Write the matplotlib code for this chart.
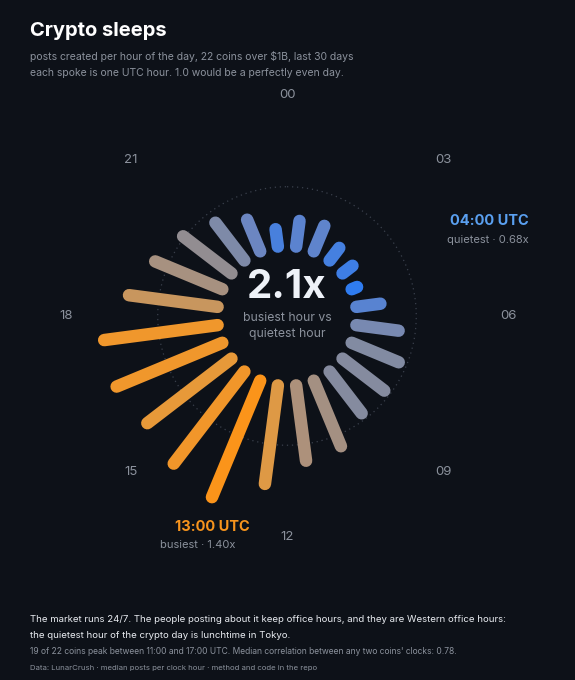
import numpy as np
import matplotlib.pyplot as plt
from matplotlib.colors import LinearSegmentedColormap

plt.rcParams['font.family'] = ['Inter', 'DejaVu Sans']

hours = np.arange(24)
values = [0.80, 0.81, 0.74, 0.72, 0.68, 0.79, 0.90, 0.95, 0.96, 0.96, 1.07, 1.10,
          1.24, 1.40, 1.34, 1.28, 1.33, 1.33, 1.18, 1.08, 1.01, 0.93, 0.85, 0.75]
hour_labels = ['00', '03', '06', '09', '12', '15', '18', '21']

bg = '#0d1118'
cx, cy = 287, 316
r_in = 70
scale = 167
v0 = 0.645

cmap = LinearSegmentedColormap.from_list('sleep', [
    (0.0, '#2f7cf0'), (0.22, '#6a86c4'), (0.42, '#8a8c98'),
    (0.6, '#b09278'), (0.8, '#e39a40'), (1.0, '#fb941a')])
vmin, vmax = min(values), max(values)

fig = plt.figure(figsize=(5.75, 6.8), dpi=100, facecolor=bg)
ax = fig.add_axes([0, 0, 1, 1])
ax.set_facecolor(bg)
ax.set_xlim(0, 575)
ax.set_ylim(680, 0)
ax.axis('off')

# dotted reference circle at 1.0
t = np.linspace(0, 2 * np.pi, 400)
r1 = r_in + (1.0 - v0) * scale
ax.plot(cx + r1 * np.sin(t), cy - r1 * np.cos(t), ls=(0, (1, 3)), color='#3a404c', lw=0.9)

for h, v in zip(hours, values):
    a = np.radians((h + 0.5) * 15)
    r2 = r_in + (v - v0) * scale
    c = cmap((v - vmin) / (vmax - vmin))
    ax.plot([cx + r_in * np.sin(a), cx + r2 * np.sin(a)],
            [cy - r_in * np.cos(a), cy - r2 * np.cos(a)],
            color=c, lw=9, solid_capstyle='round')

for i, lab in enumerate(hour_labels):
    a = np.radians(i * 45)
    ax.text(cx + 221 * np.sin(a), cy - 221 * np.cos(a), lab, color='#8b919c',
            fontsize=9.5, ha='center', va='center')

ax.text(cx, 287, '2.1x', color='#eef2f8', fontsize=29, fontweight='bold', ha='center', va='center')
ax.text(cx, 318, 'busiest hour vs', color='#8b919c', fontsize=8.8, ha='center', va='center')
ax.text(cx, 334, 'quietest hour', color='#8b919c', fontsize=8.8, ha='center', va='center')

ax.text(529, 221, '04:00 UTC', color='#5aa0f0', fontsize=10.5, fontweight='bold', ha='right', va='center')
ax.text(529, 240, 'quietest · 0.68x', color='#8b919c', fontsize=8, ha='right', va='center')
ax.text(212, 527, '13:00 UTC', color='#f7941d', fontsize=10.5, fontweight='bold', ha='center', va='center')
ax.text(198, 545, 'busiest · 1.40x', color='#8b919c', fontsize=8, ha='center', va='center')

ax.text(30, 31, 'Crypto sleeps', color='white', fontsize=14.5, fontweight='bold', va='center')
ax.text(30, 56, 'posts created per hour of the day, 22 coins over $1B, last 30 days',
        color='#8b919c', fontsize=7.5, va='center')
ax.text(30, 73, 'each spoke is one UTC hour. 1.0 would be a perfectly even day.',
        color='#8b919c', fontsize=7.5, va='center')

ax.text(30, 620, 'The market runs 24/7. The people posting about it keep office hours, and they are Western office hours:',
        color='#e8ebf0', fontsize=6.95, va='center')
ax.text(30, 635, 'the quietest hour of the crypto day is lunchtime in Tokyo.',
        color='#e8ebf0', fontsize=6.95, va='center')
ax.text(30, 652, "19 of 22 coins peak between 11:00 and 17:00 UTC. Median correlation between any two coins' clocks: 0.78.",
        color='#8b919c', fontsize=6.1, va='center')
ax.text(30, 668, 'Data: LunarCrush · median posts per clock hour · method and code in the repo',
        color='#8b919c', fontsize=5.6, va='center')

fig.savefig('out.png', dpi=100, facecolor=bg)
